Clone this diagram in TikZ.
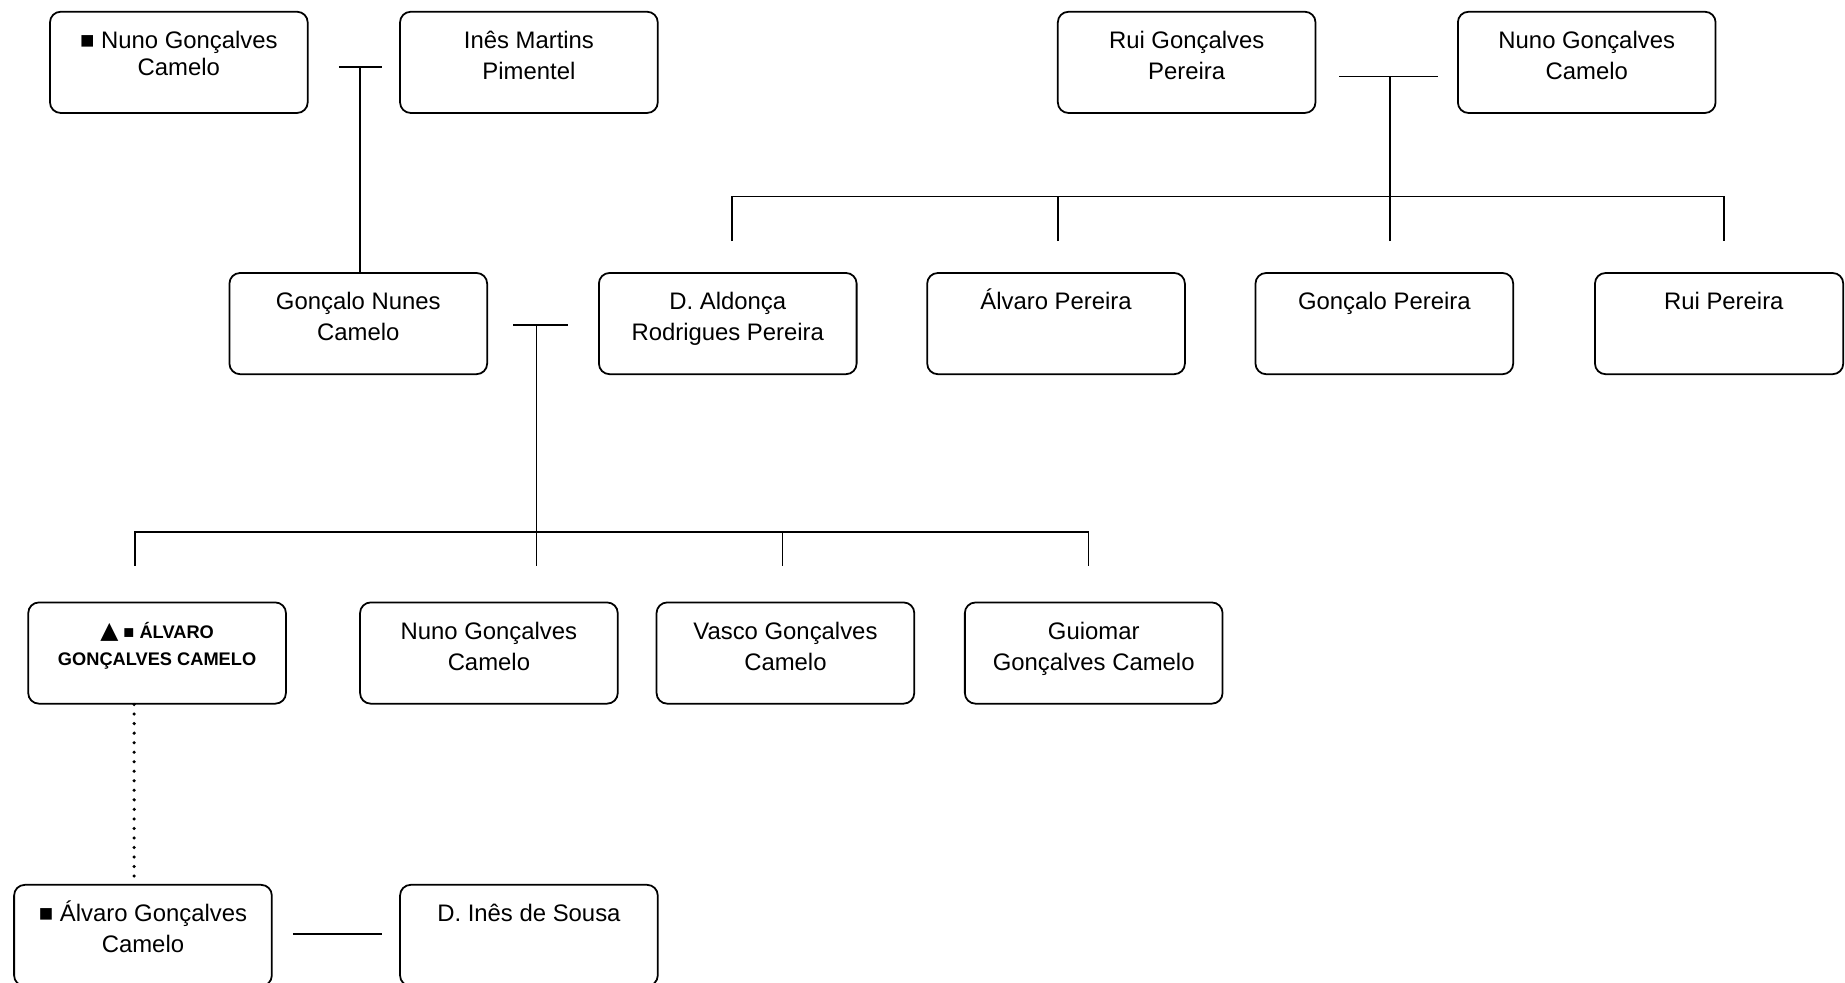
\documentclass[tikz,border=0pt]{standalone}
\usepackage{fontspec}
\setmainfont{Liberation Sans}
\newfontfamily\symfont{DejaVu Sans}
\begin{document}
\begin{tikzpicture}[x=1pt,y=-1pt,
  box/.style={draw, rounded corners=9pt, minimum width=219pt, minimum height=86pt, inner sep=0pt, line width=1.5pt},
  nametext/.style={anchor=north, inner sep=0pt, align=center, font=\fontsize{20.3}{26}\selectfont, yshift=-13.8pt},
  tighttext/.style={anchor=north, inner sep=0pt, align=center, font=\fontsize{20.3}{23}\selectfont, yshift=-15.9pt},
  capstext/.style={anchor=north, inner sep=0pt, align=center, font=\fontsize{15.5}{23}\selectfont\bfseries, yshift=-15.2pt},
  link/.style={line width=1.5pt},
  dotlink/.style={line width=3pt, line cap=round, dash pattern=on 0pt off 8.1pt}
]
\useasboundingbox (0,0) rectangle (1568,835);

% first generation
\node[box] (a) at (152,53) {};
\node[tighttext] (at) at (a.north) {\strut ■ Nuno Gonçalves\\Camelo};
\node[box] (b) at (449.5,53) {};
\node[nametext] (bt) at (b.north) {\strut Inês Martins\\Pimentel};
\node[box] (c) at (1008.5,53) {};
\node[nametext] (ct) at (c.north) {\strut Rui Gonçalves\\Pereira};
\node[box] (d) at (1348.5,53) {};
\node[nametext] (dt) at (d.north) {\strut Nuno Gonçalves\\Camelo};

% second generation
\node[box] (e) at (304.5,275) {};
\node[nametext] (et) at (e.north) {\strut Gonçalo Nunes\\Camelo};
\node[box] (f) at (618.5,275) {};
\node[nametext] (ft) at (f.north) {\strut D. Aldonça\\Rodrigues Pereira};
\node[box] (g) at (897.5,275) {};
\node[nametext] (gt) at (g.north) {\strut Álvaro Pereira};
\node[box] (h) at (1176.5,275) {};
\node[nametext] (ht) at (h.north) {\strut Gonçalo Pereira};
\node[box, minimum width=211pt] (i) at (1461,275) {};
\node[nametext, xshift=4pt] (it) at (i.north) {\strut Rui Pereira};

% third generation
\node[box] (j) at (133.5,555) {};
\node[capstext] (jt) at (j.north) {\strut{\symfont\fontsize{20}{23}\selectfont ▲} ■ ÁLVARO\\GONÇALVES CAMELO};
\node[box] (k) at (415.5,555) {};
\node[nametext] (kt) at (k.north) {\strut Nuno Gonçalves\\Camelo};
\node[box] (l) at (667.5,555) {};
\node[nametext] (lt) at (l.north) {\strut Vasco Gonçalves\\Camelo};
\node[box] (m) at (929.5,555) {};
\node[nametext] (mt) at (m.north) {\strut Guiomar\\Gonçalves Camelo};

% later generation
\node[box] (n) at (121.5,795) {};
\node[nametext] (nt) at (n.north) {\strut ■ Álvaro Gonçalves\\Camelo};
\node[box] (o) at (449.5,795) {};
\node[nametext] (ot) at (o.north) {\strut D. Inês de Sousa};

% marriage of a and b, child e
\coordinate (abl) at (288,57);
\coordinate (abr) at (325,57);
\coordinate (abm) at (306,57);
\draw[link] (abl) -- (abr);
\draw[link] (abm) -- (abm |- e.north);

% marriage of c and d, children f g h i
\coordinate (cdl) at (1138,65);
\coordinate (cdr) at (1222,65);
\coordinate (cdm) at (1181,65);
\coordinate (cdbar) at (1181,167);
\draw[link] (cdl) -- (cdr);
\draw[link] (cdm) -- (cdbar);
\coordinate (fs) at (622,205);
\coordinate (gs) at (899,205);
\coordinate (hs) at (1181,205);
\coordinate (is) at (1465,205);
\draw[link] (fs) -- (fs |- cdbar) -- (is |- cdbar) -- (is);
\draw[link] (gs) -- (gs |- cdbar);
\draw[link] (hs) -- (hs |- cdbar);

% marriage of e and f, children j k l m
\coordinate (efl) at (436,276);
\coordinate (efr) at (483,276);
\coordinate (efm) at (456,276);
\coordinate (efbar) at (456,452);
\draw[link] (efl) -- (efr);
\draw[link] (efm) -- (efbar);
\coordinate (js) at (115,481);
\coordinate (ks) at (456,481);
\coordinate (ls) at (665,481);
\coordinate (ms) at (925,481);
\draw[link] (js) -- (js |- efbar) -- (ms |- efbar) -- (ms);
\draw[link] (ks) -- (ks |- efbar);
\draw[link] (ls) -- (ls |- efbar);

% descent of j to n, and marriage of n and o
\coordinate (dx) at (114,0);
\draw[dotlink] (dx |- j.south) -- (dx |- n.north);
\coordinate (nol) at (249,794);
\coordinate (nor) at (325,794);
\draw[link] (nol) -- (nor);
\end{tikzpicture}
\end{document}
